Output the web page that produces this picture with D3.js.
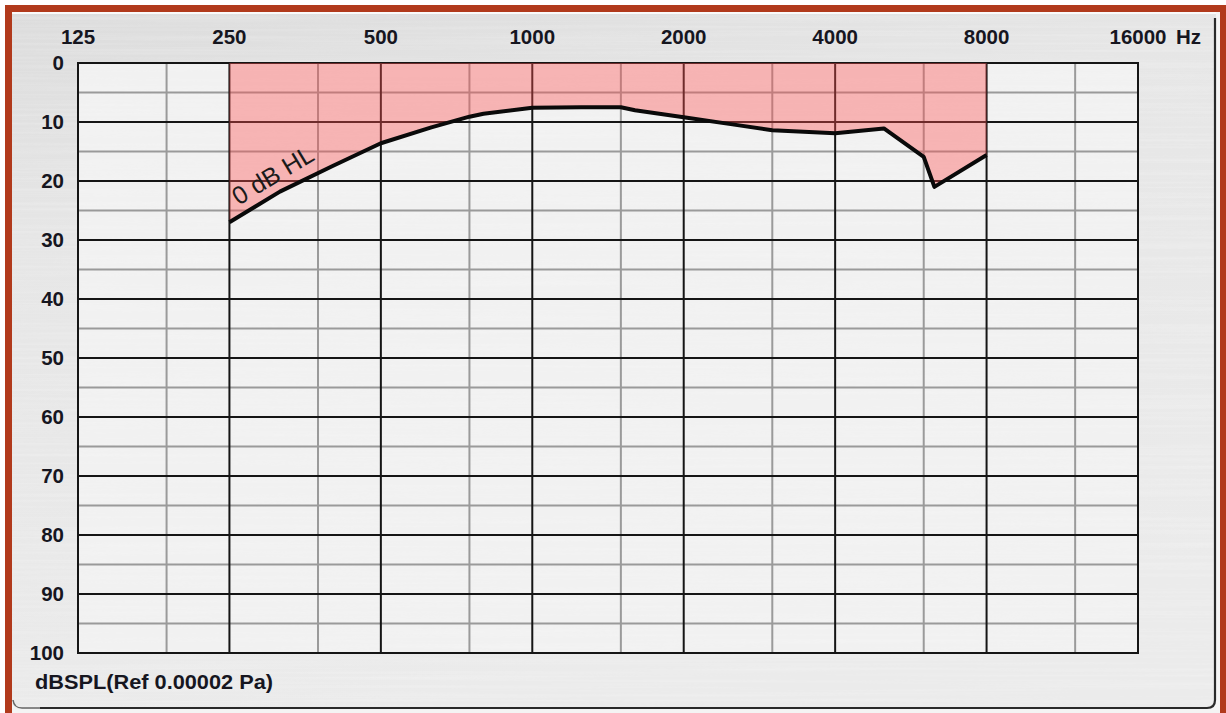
<!DOCTYPE html>
<html>
<head>
<meta charset="utf-8">
<script src="https://cdn.jsdelivr.net/npm/d3@7"></script>
<style>
html,body{margin:0;padding:0;background:#fff;}
svg{display:block;}
text{font-family:"Liberation Sans",Arial,sans-serif;}
</style>
</head>
<body>
<svg id="chart" width="1226" height="713"></svg>
<script>
// ---- data ----
const freqTicks = [125, 250, 500, 1000, 2000, 4000, 8000, 16000];
const freqTickLabels = ["125", "250", "500", "1000", "2000", "4000", "8000", "16000"];
const freqMinor = [187.5, 375, 750, 1500, 3000, 6000, 12000];
const levelTicks = [0, 10, 20, 30, 40, 50, 60, 70, 80, 90, 100];
const levelMinor = [5, 15, 25, 35, 45, 55, 65, 75, 85, 95];
const curveFreqs = [250, 315, 400, 500, 630, 750, 800, 1000, 1250, 1500, 1600, 2000, 2500, 3000, 4000, 5000, 6000, 6300, 8000];
const curveDb    = [27, 21.8, 17.5, 13.6, 10.9, 9.1, 8.6, 7.6, 7.5, 7.5, 8.0, 9.2, 10.4, 11.4, 11.9, 11.1, 15.9, 21.0, 15.6];
const curveLabel = "0 dB HL";
const unitLabel = "Hz";
const yTitle = "dBSPL(Ref 0.00002 Pa)";

const svg = d3.select("#chart");
const W = 1226, H = 713;

const x = d3.scaleLog().base(2).domain([125, 16000]).range([78, 1138]);
const y = d3.scaleLinear().domain([0, 100]).range([63, 653]);

const defs = svg.append("defs");
const pg = defs.append("linearGradient").attr("id", "panelGrad").attr("x1", 0).attr("y1", 0).attr("x2", 0.3).attr("y2", 1);
pg.append("stop").attr("offset", "0%").attr("stop-color", "#dcdcdc");
pg.append("stop").attr("offset", "30%").attr("stop-color", "#e6e6e6");
pg.append("stop").attr("offset", "100%").attr("stop-color", "#ebebeb");

// brushed metal streaks
const f = defs.append("filter").attr("id", "brush").attr("x", 0).attr("y", 0).attr("width", "100%").attr("height", "100%");
f.append("feTurbulence").attr("type", "fractalNoise").attr("baseFrequency", "0.003 0.35").attr("numOctaves", 2).attr("seed", 3).attr("result", "n");
f.append("feColorMatrix").attr("type", "matrix")
  .attr("values", "0 0 0 0 1  0 0 0 0 1  0 0 0 0 1  0.9 0 0 0 -0.35");

// frame
svg.append("rect").attr("x", 0).attr("y", 0).attr("width", W).attr("height", H).attr("fill", "#ffffff");
svg.append("rect").attr("x", 5).attr("y", 5).attr("width", W).attr("height", H).attr("fill", "#b13a1c");
svg.append("rect").attr("x", 12).attr("y", 12).attr("width", 1208).attr("height", H).attr("fill", "#f4f4f4");
svg.append("path")
  .attr("d", "M12,12 H1216 V700 Q1216,709 1207,709 H21 Q12,709 12,700 Z")
  .attr("fill", "url(#panelGrad)");
svg.append("rect").attr("x", 12).attr("y", 12).attr("width", 1204).attr("height", 697)
  .attr("filter", "url(#brush)").attr("opacity", 0.45);
// edge highlights / shadows
svg.append("line").attr("x1", 12).attr("x2", 1216).attr("y1", 13).attr("y2", 13).attr("stroke", "#fafafa").attr("stroke-width", 2);
svg.append("path")
  .attr("d", "M1215,18 V700 Q1215,708 1207,708 H40")
  .attr("fill", "none").attr("stroke", "#2a2a2a").attr("stroke-width", 2.2);
svg.append("path")
  .attr("d", "M40,708 H22 Q14,708 13,700")
  .attr("fill", "none").attr("stroke", "#666", ).attr("stroke-width", 1.5);

// plot background
svg.append("rect").attr("x", x(125)).attr("y", y(0)).attr("width", x(16000) - x(125)).attr("height", y(100) - y(0))
  .attr("fill", "#f1f1f1");
svg.append("rect").attr("x", x(125)).attr("y", y(0)).attr("width", x(16000) - x(125)).attr("height", y(100) - y(0))
  .attr("filter", "url(#brush)").attr("opacity", 0.35);

const grid = svg.append("g");
grid.selectAll(".vmin").data(freqMinor).join("line")
  .attr("x1", d => x(d)).attr("x2", d => x(d)).attr("y1", y(0)).attr("y2", y(100))
  .attr("stroke", "#9a9a9a").attr("stroke-width", 2);
grid.selectAll(".hmin").data(levelMinor).join("line")
  .attr("x1", x(125)).attr("x2", x(16000)).attr("y1", d => y(d)).attr("y2", d => y(d))
  .attr("stroke", "#9a9a9a").attr("stroke-width", 2);
grid.selectAll(".vmaj").data(freqTicks).join("line")
  .attr("x1", d => x(d)).attr("x2", d => x(d)).attr("y1", y(0) - 1).attr("y2", y(100) + 1)
  .attr("stroke", "#151515").attr("stroke-width", 2);
grid.selectAll(".hmaj").data(levelTicks).join("line")
  .attr("x1", x(125) - 1).attr("x2", x(16000) + 1).attr("y1", d => y(d)).attr("y2", d => y(d))
  .attr("stroke", "#151515").attr("stroke-width", 2);

// shaded area
const pts = curveFreqs.map((fq, i) => ({f: fq, v: curveDb[i]}));
const area = d3.area().x(d => x(d.f)).y0(y(0)).y1(d => y(d.v));
svg.append("path").datum(pts).attr("d", area)
  .attr("fill", "rgb(255,80,80)").attr("fill-opacity", 0.38);
const line = d3.line().x(d => x(d.f)).y(d => y(d.v));
svg.append("path").datum(pts).attr("d", line)
  .attr("fill", "none").attr("stroke", "#0a0a0a").attr("stroke-width", 4).attr("stroke-linejoin", "round");

// curve label
svg.append("text")
  .attr("transform", `translate(${x(250) + 9},${y(24.2)}) rotate(-31)`)
  .attr("font-size", 25).attr("fill", "#1a1a1a")
  .text(curveLabel);

// top frequency labels
svg.append("g").selectAll("text").data(freqTicks).join("text")
  .attr("x", d => x(d)).attr("y", 44).attr("text-anchor", "middle")
  .attr("font-size", 20.5).attr("font-weight", "bold").attr("fill", "#16161f")
  .text((d, i) => freqTickLabels[i]);
svg.append("text").attr("x", x(16000) + 38).attr("y", 44)
  .attr("font-size", 20.5).attr("font-weight", "bold").attr("fill", "#16161f").text(unitLabel);

// left level labels
svg.append("g").selectAll("text").data(levelTicks).join("text")
  .attr("x", 64).attr("y", d => y(d)).attr("dy", "0.36em").attr("text-anchor", "end")
  .attr("font-size", 20.5).attr("font-weight", "bold").attr("fill", "#16161f")
  .text(d => d);

svg.append("text").attr("x", 35).attr("y", 689)
  .attr("font-size", 20).attr("font-weight", "bold").attr("fill", "#16161f")
  .attr("textLength", 238).attr("lengthAdjust", "spacingAndGlyphs")
  .text(yTitle);
</script>
</body>
</html>
